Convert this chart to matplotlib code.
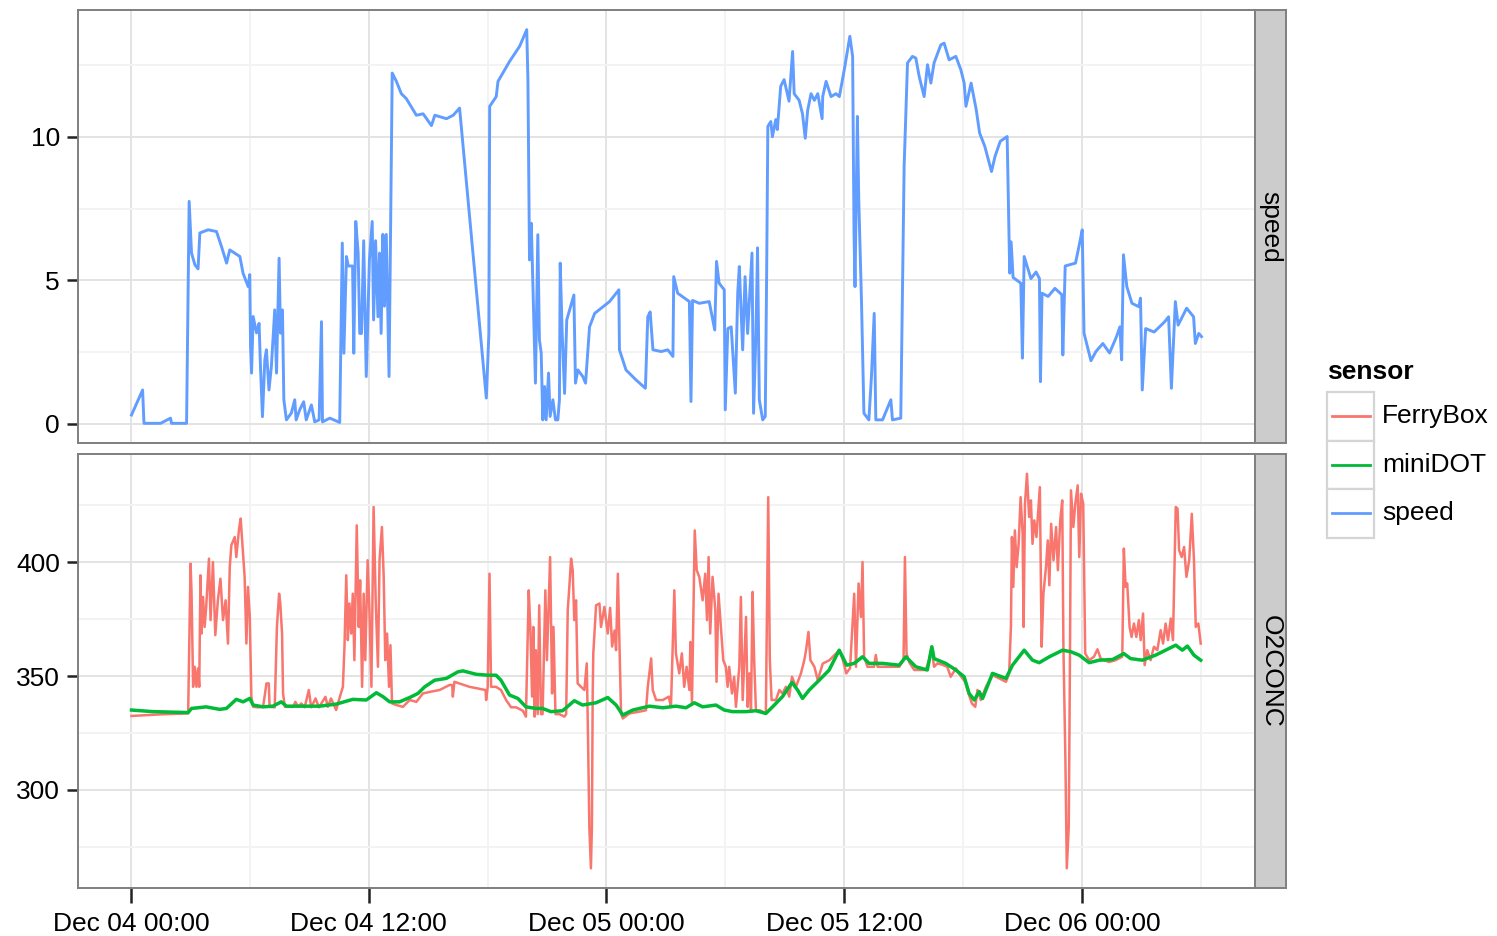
import numpy as np
import matplotlib
matplotlib.use("Agg")
import matplotlib.pyplot as plt
import matplotlib.dates as mdates
from matplotlib.ticker import MultipleLocator, AutoMinorLocator
from matplotlib.patches import Rectangle
from matplotlib.lines import Line2D

plt.rcParams["font.family"] = ["Liberation Sans", "DejaVu Sans"]

START = np.datetime64("2014-12-04T00:00")

# hours after Dec 04 00:00
speed_hours = [
    0.03, 0.59, 0.66, 1.5, 2.0, 2.05, 2.81, 2.94, 3.06, 3.23, 3.39, 3.48, 3.9, 4.32,
    4.57, 4.83, 4.99, 5.5, 5.66, 5.92, 6.0, 6.04, 6.09, 6.17, 6.34, 6.47, 6.54, 6.64,
    6.76, 6.84, 6.97, 7.09, 7.26, 7.35, 7.48, 7.55, 7.65, 7.72, 7.85, 8.1, 8.27, 8.34,
    8.52, 8.72, 8.85, 9.11, 9.28, 9.5, 9.62, 9.67, 10.04, 10.54, 10.67, 10.75, 10.88,
    10.97, 11.19, 11.25, 11.35, 11.47, 11.55, 11.64, 11.75, 11.88, 12.04, 12.18, 12.25,
    12.35, 12.47, 12.55, 12.63, 12.72, 12.8, 12.89, 13.03, 13.19, 13.4, 13.65, 13.9,
    14.41, 14.75, 15.17, 15.34, 15.93, 16.27, 16.59, 17.94, 18.07, 18.11, 18.44, 18.53,
    19.11, 19.62, 19.98, 20.04, 20.12, 20.21, 20.29, 20.42, 20.54, 20.62, 20.71, 20.79,
    20.88, 20.96, 21.08, 21.16, 21.3, 21.43, 21.55, 21.63, 21.67, 21.77, 21.89, 22.0,
    22.14, 22.36, 22.44, 22.56, 22.81, 22.95, 23.15, 23.41, 23.83, 24.16, 24.63, 24.66,
    24.99, 25.5, 25.97, 26.09, 26.21, 26.35, 26.77, 27.1, 27.36, 27.4, 27.6, 28.19,
    28.27, 28.35, 28.69, 29.19, 29.47, 29.56, 29.69, 29.95, 30.0, 30.13, 30.3, 30.51,
    30.63, 30.71, 30.88, 31.0, 31.13, 31.35, 31.43, 31.55, 31.63, 31.72, 31.89, 32.02,
    32.09, 32.15, 32.3, 32.38, 32.55, 32.63, 32.8, 32.97, 33.22, 33.4, 33.48, 33.73,
    33.9, 34.04, 34.16, 34.33, 34.5, 34.67, 34.89, 34.92, 35.09, 35.34, 35.59, 35.76,
    36.01, 36.29, 36.43, 36.5, 36.55, 36.67, 36.74, 36.88, 37.0, 37.25, 37.38, 37.52,
    37.6, 37.94, 38.36, 38.44, 38.86, 39.03, 39.2, 39.45, 39.62, 39.79, 40.04, 40.21,
    40.38, 40.54, 40.88, 41.05, 41.3, 41.64, 41.89, 42.06, 42.15, 42.41, 42.67, 42.84,
    43.1, 43.44, 43.62, 43.88, 44.23, 44.36, 44.43, 44.53, 44.92, 45.0, 45.09, 45.43,
    45.69, 45.86, 45.91, 45.99, 46.3, 46.64, 46.99, 47.04, 47.16, 47.68, 47.89, 48.02,
    48.11, 48.46, 48.71, 49.06, 49.4, 49.75, 49.92, 50.01, 50.1, 50.27, 50.53, 50.88,
    50.96, 51.05, 51.22, 51.65, 52.17, 52.38, 52.52, 52.72, 52.86, 53.29, 53.64, 53.73,
    53.9, 54.04,
]
speed_values = [
    0.31, 1.18, 0.02, 0.02, 0.2, 0.02, 0.02, 7.75, 5.95, 5.54, 5.4, 6.65, 6.76, 6.7,
    6.18, 5.6, 6.06, 5.83, 5.25, 4.78, 5.2, 2.7, 1.77, 3.74, 3.17, 3.5, 2.0, 0.25,
    2.23, 2.58, 1.18, 2.0, 3.97, 1.77, 5.77, 3.16, 3.97, 0.84, 0.14, 0.38, 0.84, 0.14,
    0.49, 0.77, 0.14, 0.66, 0.07, 0.14, 3.56, 0.07, 0.2, 0.05, 6.3, 2.46, 5.83,
    5.5, 5.5, 2.46, 7.05, 5.95, 3.15, 3.15, 6.38, 1.65, 5.72, 7.05, 3.62,
    6.38, 3.73, 5.95, 3.15, 6.6, 4.1, 6.6, 1.65, 12.22, 11.93, 11.5, 11.33,
    10.75, 10.8, 10.39, 10.75, 10.63, 10.75, 11.0, 0.9, 3.15, 11.06, 11.4, 11.93,
    12.62, 13.15, 13.73, 11.99, 5.71, 6.99, 4.85, 1.42, 6.59, 2.93, 2.47, 0.14,
    1.3, 0.14, 1.77, 0.26, 0.84, 0.14, 0.14, 0.84, 5.6, 3.15, 1.06, 3.62,
    3.96, 4.49, 1.42, 1.88, 1.65, 1.42, 3.38, 3.85, 4.08, 4.26, 4.67, 2.58,
    1.88, 1.53, 1.24, 3.73, 3.9, 2.58, 2.52, 2.58, 2.35, 5.13, 4.55, 4.26,
    0.78, 4.3, 4.2, 4.26, 3.27, 5.66, 4.9, 4.67, 0.49, 3.32, 3.38, 1.07,
    4.55, 5.48, 2.58, 5.13, 3.15, 5.95, 0.37, 3.15, 6.13, 0.84, 0.14, 0.26,
    5.2, 10.36, 10.53, 10.0, 10.6, 10.25, 11.76, 11.99, 11.24, 12.97, 11.5, 11.27,
    10.8, 9.95, 10.92, 11.5, 11.27, 11.5, 10.63, 11.4, 11.93, 11.4, 11.5, 11.4,
    12.34, 13.5, 12.8, 6.64, 4.78, 10.71, 7.8, 4.2, 0.37, 0.14, 1.65, 3.85,
    0.14, 0.14, 0.84, 0.14, 0.2, 8.97, 12.57, 12.8, 12.74, 12.1, 11.4, 12.51,
    11.87, 12.57, 13.2, 13.26, 12.68, 12.8, 12.34, 11.87, 11.06, 11.87, 10.94, 10.13,
    9.67, 8.79, 9.32, 9.84, 10.01, 5.25, 6.34, 5.1, 4.9, 2.29, 5.83, 5.06,
    5.29, 5.06, 1.47, 4.55, 4.44, 4.72, 4.5, 2.4, 5.5, 5.6, 6.3, 6.76,
    3.16, 2.2, 2.52, 2.8, 2.47, 3.04, 3.38, 2.23, 5.89, 4.78, 4.2, 4.08,
    4.38, 1.18, 3.32, 3.2, 3.55, 3.73, 1.24, 4.26, 3.44, 4.03, 3.73, 2.8,
    3.15, 3.04,
]

ferrybox_hours = [
    0.03, 1.5, 2.89, 3.01, 3.06, 3.14, 3.22, 3.31, 3.39, 3.45, 3.51, 3.56, 3.64, 3.72,
    3.8, 3.94, 4.02, 4.14, 4.26, 4.39, 4.52, 4.65, 4.78, 4.9, 4.99, 5.07, 5.24, 5.32,
    5.46, 5.54, 5.66, 5.74, 5.83, 5.91, 6.0, 6.08, 6.17, 6.42, 6.67, 6.76, 6.84, 6.96,
    7.0, 7.26, 7.37, 7.48, 7.54, 7.63, 7.68, 7.77, 8.19, 8.3, 8.44, 8.6, 8.77, 8.98,
    9.1, 9.32, 9.49, 9.82, 9.94, 10.1, 10.36, 10.5, 10.7, 10.78, 10.87, 10.95, 11.03,
    11.12, 11.2, 11.28, 11.4, 11.5, 11.57, 11.67, 11.75, 11.83, 11.95, 12.04, 12.14,
    12.25, 12.36, 12.47, 12.55, 12.67, 12.76, 12.84, 12.93, 13.03, 13.1, 13.18, 13.4,
    13.73, 14.07, 14.41, 14.74, 15.16, 15.58, 16.08, 16.22, 16.25, 16.33, 17.09, 17.9,
    17.93, 18.01, 18.1, 18.18, 18.43, 18.68, 18.94, 19.19, 19.44, 19.78, 19.94, 20.08,
    20.16, 20.25, 20.31, 20.38, 20.44, 20.53, 20.61, 20.7, 20.78, 20.92, 21.0, 21.16,
    21.26, 21.33, 21.43, 21.63, 21.88, 21.97, 22.05, 22.13, 22.22, 22.3, 22.38, 22.47,
    22.55, 22.72, 22.89, 23.01, 23.07, 23.14, 23.22, 23.27, 23.31, 23.34, 23.48, 23.65,
    23.73, 23.9, 24.07, 24.19, 24.29, 24.41, 24.49, 24.58, 24.66, 24.74, 24.83, 25.16,
    25.67, 26.0, 26.09, 26.26, 26.34, 26.51, 26.85, 27.15, 27.26, 27.43, 27.51, 27.68,
    27.81, 27.93, 28.05, 28.19, 28.24, 28.32, 28.46, 28.56, 28.69, 28.86, 28.99, 29.08,
    29.16, 29.24, 29.36, 29.5, 29.56, 29.66, 29.78, 29.9, 30.03, 30.12, 30.2, 30.34,
    30.45, 30.54, 30.71, 30.79, 30.88, 30.96, 31.05, 31.13, 31.22, 31.3, 31.38, 31.46,
    31.55, 31.75, 32.05, 32.17, 32.25, 32.34, 32.56, 32.73, 32.89, 33.06, 33.23, 33.37,
    33.57, 33.82, 33.99, 34.08, 34.2, 34.3, 34.5, 34.67, 34.92, 35.26, 35.6, 35.77,
    35.94, 36.11, 36.3, 36.51, 36.6, 36.73, 36.85, 36.93, 37.01, 37.18, 37.51, 37.6,
    37.69, 38.11, 38.78, 39.0, 39.07, 39.15, 39.29, 39.54, 39.87, 40.12, 40.29, 40.41,
    40.54, 40.71, 40.96, 41.21, 41.38, 41.64, 41.89, 42.11, 42.28, 42.45, 42.62, 42.73,
    42.9, 43.16, 43.49, 43.83, 44.17, 44.33, 44.42, 44.47, 44.54, 44.62, 44.71, 44.81,
    44.91, 45.01, 45.06, 45.13, 45.23, 45.34, 45.43, 45.51, 45.6, 45.71, 45.88, 45.97,
    46.06, 46.19, 46.28, 46.36, 46.45, 46.57, 46.7, 46.79, 46.91, 47.01, 47.07, 47.17,
    47.24, 47.34, 47.4, 47.45, 47.57, 47.67, 47.79, 47.87, 47.96, 48.07, 48.17, 48.37,
    48.61, 48.79, 48.95, 49.37, 49.7, 50.04, 50.12, 50.21, 50.29, 50.41, 50.51, 50.63,
    50.75, 50.88, 50.97, 51.09, 51.17, 51.3, 51.47, 51.64, 51.81, 51.98, 52.1, 52.23,
    52.35, 52.49, 52.6, 52.74, 52.83, 52.91, 53.04, 53.16, 53.28, 53.42, 53.55, 53.66,
    53.75, 53.88, 54.0,
]
ferrybox_o2 = [
    332.5, 333.2, 333.6, 399.4, 387.0, 345.3, 354.1, 345.3, 353.4, 345.3, 394.3, 368.7, 384.8, 371.6,
    380.4, 401.6, 374.6, 400.1, 368.0, 383.3, 392.8, 374.6, 383.3, 364.3, 397.9, 407.5, 411.1, 402.3,
    414.8, 419.2, 403.8, 393.6, 364.3, 389.2, 376.0, 340.9, 336.5, 336.3, 336.5, 341.7, 346.8, 346.8,
    336.5, 336.3, 371.6, 386.2, 381.9, 368.7, 342.4, 336.5, 336.5, 338.7, 336.5, 338.0, 336.3, 343.9,
    336.3, 340.2, 336.3, 340.9, 336.5, 340.2, 335.1, 339.5, 345.3, 362.9, 394.3, 365.8, 381.9,
    368.7, 386.2, 357.0, 416.2, 371.6, 392.1, 345.3, 386.2, 357.0, 400.9, 378.9, 345.3,
    424.3, 381.9, 354.1, 400.9, 415.5, 393.6, 357.0, 368.7, 345.3, 363.6, 338.0, 337.3,
    336.5, 339.5, 338.7, 342.4, 343.2, 343.9, 346.1, 346.1, 341.0, 347.5, 345.3, 343.9,
    339.5, 345.3, 395.0, 345.3, 345.3, 343.9, 339.5, 336.3, 336.3, 334.8, 332.2, 387.7,
    371.6, 341.0, 371.6, 332.2, 361.4, 333.3, 381.1, 333.3, 333.3, 387.7, 357.0, 402.3,
    342.4, 371.6, 333.3, 333.3, 332.2, 333.3, 378.9, 389.2, 401.6, 396.5, 374.6, 383.3,
    346.8, 345.3, 343.9, 355.6, 324.9, 283.9, 265.6, 283.9, 342.4, 360.0, 381.1, 381.9,
    371.6, 380.4, 368.7, 380.0, 363.0, 370.0, 361.4, 395.0, 364.3, 333.6, 331.4, 333.6,
    334.4, 335.0, 345.3, 357.8, 343.9, 339.5, 339.5, 341.0, 336.5, 387.7, 360.0, 351.2,
    360.0, 345.3, 354.1, 343.9, 365.0, 338.0, 414.0, 396.5, 393.6, 383.3, 395.0, 374.6,
    402.3, 368.7, 393.6, 379.0, 347.5, 386.2, 371.6, 357.0, 354.1, 345.3, 354.1, 342.4,
    349.7, 336.5, 354.1, 384.8, 339.5, 357.0, 376.0, 336.5, 351.2, 335.0, 387.0, 357.0,
    335.0, 335.0, 333.6, 428.6, 357.0, 339.5, 339.5, 343.9, 342.4, 345.3, 341.0, 349.7,
    345.3, 351.2, 357.0, 361.4, 369.4, 357.0, 354.1, 348.2, 355.5, 357.0, 360.0, 361.4,
    357.0, 351.2, 353.5, 386.2, 354.1, 390.7, 376.0, 400.1, 358.5, 354.1, 354.1, 359.3,
    354.1, 354.1, 354.1, 357.0, 402.3, 360.0, 356.0, 352.7, 352.7, 352.7, 357.0, 362.9,
    354.1, 355.6, 355.0, 354.1, 349.7, 353.4, 350.0, 347.5, 342.4, 338.0, 336.5, 343.9,
    339.5, 345.3, 350.4, 349.0, 347.5, 351.2, 371.6, 411.1, 389.2, 414.0, 397.9, 408.1,
    428.6, 412.6, 371.6, 425.7, 438.9, 419.9, 427.2, 408.1, 418.4, 411.1, 433.0, 362.9,
    386.2, 397.9, 409.6, 389.9, 416.9, 400.9, 415.5, 396.5, 418.4, 427.2, 362.9, 313.2,
    265.6, 283.9, 357.0, 431.6, 415.5, 425.7, 433.8, 402.3, 430.1, 425.7, 360.0, 357.0,
    358.5, 361.8, 357.7, 356.2, 357.0, 358.5, 406.0, 389.2, 390.7, 371.6, 367.2, 373.1,
    367.2, 374.6, 365.8, 377.5, 354.8, 361.4, 357.0, 362.9, 361.4, 370.2, 364.3, 373.1,
    365.8, 375.3, 365.8, 424.3, 423.6, 405.3, 402.3, 406.7, 393.6, 400.9, 421.3, 400.9,
    371.6, 373.1, 364.3,
]

minidot_hours = [
    0.03, 1.12, 2.89, 3.06, 3.8, 4.48, 4.82, 5.32, 5.66, 6.0, 6.17, 6.67, 7.17, 7.59,
    7.85, 8.69, 9.53, 10.36, 11.2, 11.88, 12.39, 12.72, 13.06, 13.56, 14.07, 14.49,
    14.83, 15.33, 15.92, 16.51, 16.76, 17.43, 18.01, 18.43, 18.68, 19.11, 19.53, 19.94,
    20.45, 20.78, 21.2, 21.79, 22.13, 22.38, 22.8, 23.48, 24.07, 24.49, 24.83, 25.33,
    26.17, 26.85, 27.51, 28.02, 28.44, 28.86, 29.53, 29.95, 30.37, 31.05, 31.55, 32.05,
    32.39, 32.89, 33.37, 33.65, 33.9, 34.24, 34.74, 35.24, 35.75, 35.92, 36.13, 36.51,
    36.93, 37.26, 37.94, 38.78, 39.12, 39.62, 40.2, 40.43, 40.54, 41.13, 41.64, 42.06,
    42.31, 42.57, 42.82, 42.99, 43.49, 44.17, 44.5, 45.09, 45.51, 45.85, 46.36, 47.03,
    47.45, 47.87, 48.37, 48.88, 49.55, 50.12, 50.46, 51.05, 51.72, 52.23, 52.74, 53.07,
    53.33, 53.66, 54.0,
]
minidot_o2 = [
    335.1, 334.4, 334.0, 335.8, 336.5, 335.4, 335.8, 339.8, 338.7, 340.2, 337.3, 336.5, 336.8, 338.7,
    336.8, 336.8, 336.8, 337.7, 339.8, 339.5, 342.7, 341.0, 338.7, 338.7, 340.6, 342.4,
    345.3, 348.2, 349.0, 351.9, 352.3, 350.8, 350.4, 350.4, 348.2, 341.7, 340.2, 336.5,
    335.8, 335.8, 334.4, 334.8, 337.3, 339.2, 337.3, 338.3, 340.6, 337.3, 332.9, 335.1,
    336.8, 336.1, 336.8, 336.1, 338.3, 336.5, 337.3, 335.1, 334.4, 334.4, 334.8, 333.6,
    336.5, 341.0, 347.2, 343.9, 340.2, 343.9, 348.2, 352.6, 361.4, 358.5, 354.8, 355.6,
    358.5, 355.6, 355.6, 354.8, 358.5, 354.1, 352.7, 362.9, 357.7, 355.6, 352.7, 349.7,
    342.4, 339.5, 343.2, 340.2, 351.2, 349.0, 354.8, 361.4, 357.0, 355.9, 358.5, 361.4,
    360.7, 359.2, 355.9, 357.0, 357.3, 359.9, 357.7, 357.0, 359.2, 361.4, 363.6, 361.4,
    363.2, 359.2, 357.0,
]

sensors = ["FerryBox", "miniDOT", "speed"]
colors = {"FerryBox": "#F8766D", "miniDOT": "#00BA38", "speed": "#619CFF"}

W, H = 1497, 936
TXT = 19
BORDER = "#7F7F7F"


def to_time(hours):
    secs = np.round(np.asarray(hours) * 3600).astype("timedelta64[s]")
    return START + secs


def box(x0, y0, x1, y1):
    # pixel box -> figure fraction [left, bottom, width, height]
    return [x0 / W, 1 - y1 / H, (x1 - x0) / W, (y1 - y0) / H]


def padded(*arrays):
    lo = min(np.min(a) for a in arrays)
    hi = max(np.max(a) for a in arrays)
    pad = 0.05 * (hi - lo)
    return lo - pad, hi + pad


def style_panel(ax):
    ax.set_facecolor("white")
    ax.set_axisbelow(True)
    ax.grid(which="major", color="#E3E3E3", lw=1.4)
    ax.grid(which="minor", color="#F3F3F3", lw=1.4)
    for s in ax.spines.values():
        s.set_color(BORDER)
        s.set_linewidth(1.4)
    ax.tick_params(which="major", length=8, width=1.8, color="#222222",
                   labelsize=TXT, pad=5, labelcolor="black")
    ax.tick_params(which="minor", length=0)
    ax.yaxis.set_minor_locator(AutoMinorLocator(2))


def add_strip(rect, label):
    sax = fig.add_axes(rect)
    sax.set_facecolor("#CCCCCC")
    sax.set_xticks([])
    sax.set_yticks([])
    for s in sax.spines.values():
        s.set_color(BORDER)
        s.set_linewidth(1.4)
    sax.text(0.5, 0.5, label, rotation=270, ha="center", va="center",
             fontsize=TXT, transform=sax.transAxes)


fig = plt.figure(figsize=(W / 100, H / 100), dpi=100)
ax_top = fig.add_axes(box(78, 10, 1255, 443))
ax_bot = fig.add_axes(box(78, 454, 1255, 888), sharex=ax_top)

t_speed = to_time(speed_hours)
t_ferry = to_time(ferrybox_hours)
t_mini = to_time(minidot_hours)

ax_top.plot(t_speed, speed_values, color=colors["speed"], lw=2.1, solid_joinstyle="round")
ax_bot.plot(t_ferry, ferrybox_o2, color=colors["FerryBox"], lw=1.8, solid_joinstyle="round")
ax_bot.plot(t_mini, minidot_o2, color=colors["miniDOT"], lw=2.5, solid_joinstyle="round")

for ax in (ax_top, ax_bot):
    style_panel(ax)

all_hours = np.concatenate([speed_hours, ferrybox_hours, minidot_hours])
h_lo, h_hi = padded(all_hours)
ax_bot.set_xlim(to_time([h_lo])[0], to_time([h_hi])[0])
ax_top.set_ylim(*padded(speed_values))
ax_bot.set_ylim(*padded(ferrybox_o2, minidot_o2))

ax_top.yaxis.set_major_locator(MultipleLocator(5))
ax_bot.yaxis.set_major_locator(MultipleLocator(50))

ax_bot.xaxis.set_major_locator(mdates.HourLocator(byhour=[0, 12]))
ax_bot.xaxis.set_minor_locator(mdates.HourLocator(byhour=[6, 18]))
ax_bot.xaxis.set_major_formatter(mdates.DateFormatter("%b %d %H:%M"))
ax_bot.tick_params(axis="x", which="major", length=11, pad=6)
ax_top.tick_params(axis="x", which="both", bottom=False, labelbottom=False)

add_strip(box(1255, 10, 1286, 443), "speed")
add_strip(box(1255, 454, 1286, 888), "O2CONC")

# legend
fig.text(1327 / W, 1 - 372 / H, "sensor", fontsize=TXT, fontweight="bold",
         ha="left", va="center")
key_top = 392
key_h = 48.5
for i, name in enumerate(sensors):
    y0 = key_top + i * key_h
    fig.add_artist(Rectangle((1327 / W, 1 - (y0 + key_h) / H), 47 / W, key_h / H,
                             transform=fig.transFigure, facecolor="white",
                             edgecolor="#D5D5D5", lw=1.6))
    yc = 1 - (y0 + key_h / 2) / H
    fig.add_artist(Line2D([1332 / W, 1370 / W], [yc, yc], transform=fig.transFigure,
                          color=colors[name], lw=2.0))
    fig.text(1382 / W, yc, name, fontsize=TXT, ha="left", va="center")

fig.savefig("out.png", dpi=100, facecolor="white")
